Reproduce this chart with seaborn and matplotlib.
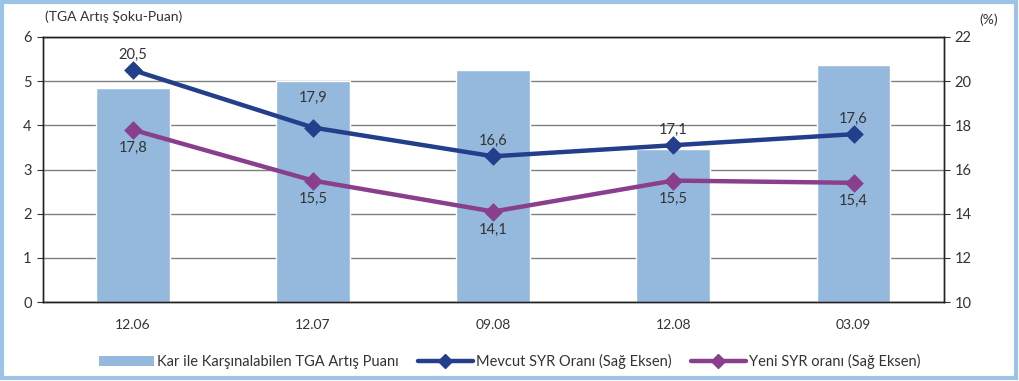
import numpy as np
import pandas as pd
import matplotlib
matplotlib.use("Agg")
import matplotlib.pyplot as plt
from matplotlib.patches import Rectangle, Patch
from matplotlib.lines import Line2D
import seaborn as sns

# data
donem = ["12.06", "12.07", "09.08", "12.08", "03.09"]
tga_puan = [4.84, 5.0, 5.25, 3.46, 5.36]
mevcut_syr = [20.5, 17.9, 16.6, 17.1, 17.6]
yeni_syr = [17.8, 15.5, 14.1, 15.5, 15.4]

bar_c = "#95b9dd"
mevcut_c = "#233f8b"
yeni_c = "#8a3f8c"
txt_c = "#333333"

sns.set_style("white")
plt.rcParams["font.family"] = ["Lato", "DejaVu Sans"]
plt.rcParams["font.size"] = 10

fig = plt.figure(figsize=(10.19, 3.81), dpi=100)
ax = fig.add_axes([0.042, 0.207, 0.884, 0.696])

df = pd.DataFrame({"donem": donem, "tga": tga_puan})
sns.barplot(data=df, x="donem", y="tga", color=bar_c, width=0.41,
            saturation=1, ax=ax, zorder=2)
ax.set_ylim(0, 6)
ax.set_yticks(range(0, 7))
ax.yaxis.grid(True, color="#7f7f7f", linewidth=1, zorder=0)
ax.set_axisbelow(True)
ax.set_xlabel("")
ax.set_ylabel("")
ax.set_xlim(-0.5, len(donem) - 0.5)
ax.set_xticks(np.arange(len(donem) + 1) - 0.5, minor=True)
ax.tick_params(axis="x", which="major", length=0, pad=12, labelsize=10, colors=txt_c)
ax.tick_params(axis="x", which="minor", length=5, direction="out", color="#333333")
ax.tick_params(axis="y", length=4, direction="out", labelsize=10.5, colors=txt_c, pad=4,
               left=True)
for s in ax.spines.values():
    s.set_color("#222222")
    s.set_linewidth(1)

ax2 = ax.twinx()
sns.pointplot(x=donem, y=mevcut_syr, color=mevcut_c, markers="D", linestyles="-",
              markersize=7, linewidth=3.2, ax=ax2)
sns.pointplot(x=donem, y=yeni_syr, color=yeni_c, markers="D", linestyles="-",
              markersize=7, linewidth=3.2, ax=ax2)
ax2.set_ylim(10, 22)
ax2.set_yticks(range(10, 23, 2))
ax2.set_xlim(-0.5, len(donem) - 0.5)
ax2.tick_params(axis="y", length=4, direction="out", labelsize=10.5, colors=txt_c, pad=4,
                right=True)
ax2.set_ylabel("")
for s in ax2.spines.values():
    s.set_color("#222222")
    s.set_linewidth(1)

# label offsets (points) above the Mevcut markers; 12.07 label sits higher
up = [6, 16, 6, 6, 6]
for i, v in enumerate(mevcut_syr):
    ax2.annotate(f"{v:.1f}".replace(".", ","), (i, v), xytext=(0, up[i]),
                 textcoords="offset points", ha="center", va="bottom",
                 fontsize=10.5, color=txt_c)
for i, v in enumerate(yeni_syr):
    ax2.annotate(f"{v:.1f}".replace(".", ","), (i, v), xytext=(0, -8),
                 textcoords="offset points", ha="center", va="top",
                 fontsize=10.5, color=txt_c)

fig.text(0.044, 0.955, "(TGA Artış Şoku-Puan)", fontsize=10, color=txt_c,
         ha="left", va="center")
fig.text(0.970, 0.948, "(%)", fontsize=10, color=txt_c, ha="center", va="center")

handles = [
    Patch(facecolor=bar_c, edgecolor="none"),
    Line2D([], [], color=mevcut_c, lw=3.2, marker="D", markersize=7),
    Line2D([], [], color=yeni_c, lw=3.2, marker="D", markersize=7),
]
labels = ["Kar ile Karşınalabilen TGA Artış Puanı",
          "Mevcut SYR Oranı (Sağ Eksen)",
          "Yeni SYR oranı (Sağ Eksen)"]
fig.legend(handles, labels, loc="center", bbox_to_anchor=(0.5, 0.05), ncol=3,
           frameon=False, fontsize=10.5, handlelength=3.8, handletextpad=0.2,
           columnspacing=1.3, labelcolor=txt_c)

fig.patches.append(Rectangle((0.002, 0.008), 0.995, 0.988, transform=fig.transFigure,
                             fill=False, edgecolor="#9dc3e6", linewidth=3))

fig.savefig("out.png", dpi=100)
